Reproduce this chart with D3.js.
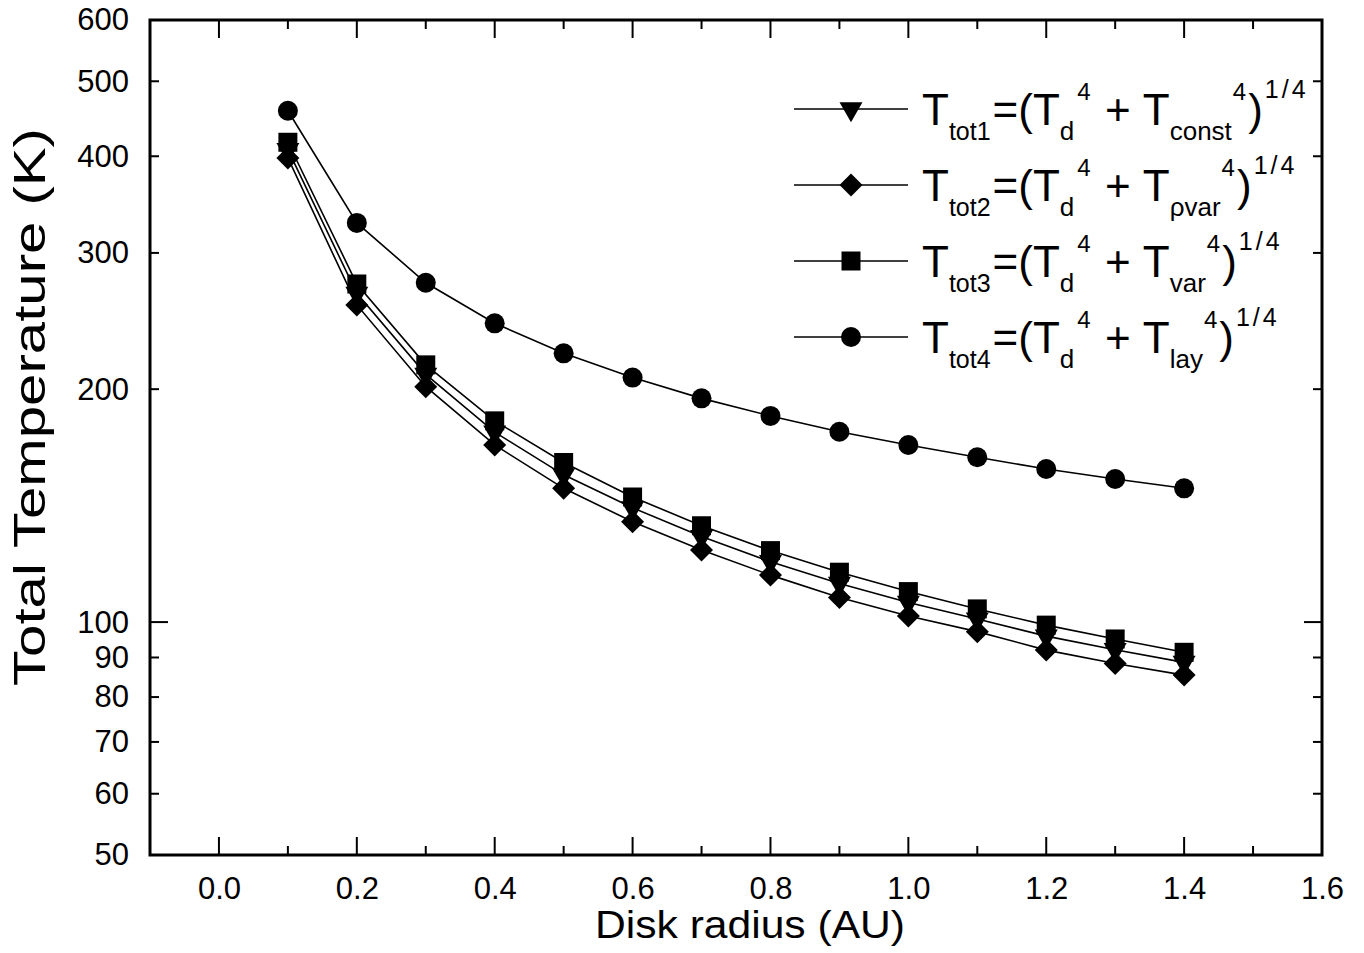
<!DOCTYPE html>
<html>
<head>
<meta charset="utf-8">
<script src="https://cdn.jsdelivr.net/npm/d3@7"></script>
<style>
  body { margin: 0; background: #fff; }
  svg text { font-family: "Liberation Sans", Arial, sans-serif; fill: #000; }
</style>
</head>
<body>
<svg id="svg"></svg>
<script>
// values
const radius = [0.1, 0.2, 0.3, 0.4, 0.5, 0.6, 0.7, 0.8, 0.9, 1.0, 1.1, 1.2, 1.3, 1.4];
const tTot1 = [408, 266, 209, 176, 155, 140.5, 129, 119.7, 112.2, 106, 100.9, 95.9, 92.1, 88.7];
const tTot2 = [398, 257, 201.5, 169.4, 148.9, 134.8, 123.9, 115, 107.6, 101.8, 97.2, 92, 88.4, 85.4];
const tTot3 = [417, 273.5, 215, 182, 160.8, 145.1, 133.2, 123.7, 116, 109.5, 104, 99.1, 95.1, 91.4];
const tTot4 = [458, 328, 274.5, 243.3, 222.5, 207, 194.6, 184.7, 176.2, 169.4, 163.3, 157.7, 153.1, 148.9];

const xTicks = [0.0, 0.2, 0.4, 0.6, 0.8, 1.0, 1.2, 1.4, 1.6];
const xMinorTicks = [0.1, 0.3, 0.5, 0.7, 0.9, 1.1, 1.3, 1.5];
const yTicks = [50, 60, 70, 80, 90, 100, 200, 300, 400, 500, 600];

const seriesSubs = ['tot1', 'tot2', 'tot3', 'tot4'];
const termSubs = ['const', 'ρvar', 'var', 'lay'];
const seriesSymbols = ['triangle', 'diamond', 'square', 'circle'];

const width = 1364, height = 953;
const margin = { top: 20, right: 42, bottom: 98, left: 150 };

const svg = d3.select('#svg')
  .attr('width', width)
  .attr('height', height);

svg.append('rect').attr('width', width).attr('height', height).attr('fill', '#fff');

// SCALES
const xScale = d3.scaleLinear()
  .domain([-0.1, 1.6])
  .range([margin.left, width - margin.right]);

const yScale = d3.scaleLog()
  .domain([50, 600])
  .range([height - margin.bottom, margin.top]);

// marker shapes
function symbolPath(kind) {
  if (kind === 'triangle') return d3.symbol(d3.symbolTriangle, 229)();
  if (kind === 'square') return d3.symbol(d3.symbolSquare, 361)();
  if (kind === 'circle') return d3.symbol(d3.symbolCircle, Math.PI * 100)();
  return 'M0,-11.5L11.5,0L0,11.5L-11.5,0Z';
}
function symbolTransform(kind, x, y) {
  return kind === 'triangle' ? `translate(${x},${y}) rotate(180)` : `translate(${x},${y})`;
}

// X AXIS
const xAxis = svg.append('g')
  .attr('transform', `translate(0, ${height - margin.bottom})`)
  .call(d3.axisBottom(xScale).tickValues(xTicks).tickSize(0).tickPadding(22)
    .tickFormat(d3.format('.1f')));
xAxis.select('.domain').remove();
xAxis.selectAll('text').attr('font-size', 31).attr('font-family', 'Liberation Sans, Arial');

// Y AXIS
const yAxis = svg.append('g')
  .attr('transform', `translate(${margin.left}, 0)`)
  .call(d3.axisLeft(yScale).tickValues(yTicks).tickSize(0).tickPadding(21)
    .tickFormat(d3.format('d')));
yAxis.select('.domain').remove();
yAxis.selectAll('text').attr('font-size', 31).attr('font-family', 'Liberation Sans, Arial');

// inward ticks on all four sides
const tickGroup = svg.append('g').attr('stroke', '#000').attr('stroke-width', 2);
const y0 = yScale.range()[0], y1 = yScale.range()[1];
const x0 = xScale.range()[0], x1 = xScale.range()[1];

xTicks.concat(xMinorTicks).forEach(v => {
  const len = xTicks.includes(v) ? 18 : 9;
  tickGroup.append('line').attr('x1', xScale(v)).attr('x2', xScale(v)).attr('y1', y0).attr('y2', y0 - len);
  tickGroup.append('line').attr('x1', xScale(v)).attr('x2', xScale(v)).attr('y1', y1).attr('y2', y1 + len);
});
yTicks.forEach(v => {
  const len = v === 100 ? 18 : 9;
  tickGroup.append('line').attr('x1', x0).attr('x2', x0 + len).attr('y1', yScale(v)).attr('y2', yScale(v));
  tickGroup.append('line').attr('x1', x1).attr('x2', x1 - len).attr('y1', yScale(v)).attr('y2', yScale(v));
});

// FRAME
svg.append('rect')
  .attr('x', x0).attr('y', y1)
  .attr('width', x1 - x0).attr('height', y0 - y1)
  .attr('fill', 'none').attr('stroke', '#000').attr('stroke-width', 3);

// AXIS LABELS
svg.append('text')
  .attr('text-anchor', 'middle')
  .attr('x', 750)
  .attr('y', 938)
  .attr('font-size', 38)
  .attr('textLength', 310)
  .attr('lengthAdjust', 'spacingAndGlyphs')
  .text('Disk radius (AU)');

svg.append('text')
  .attr('text-anchor', 'middle')
  .attr('transform', 'translate(45, 407) rotate(-90)')
  .attr('font-size', 44)
  .attr('textLength', 558)
  .attr('lengthAdjust', 'spacingAndGlyphs')
  .text('Total Temperature (K)');

// LINES AND MARKERS
const allSeries = [tTot1, tTot2, tTot3, tTot4];
const line = d3.line()
  .x((d, i) => xScale(radius[i]))
  .y(d => yScale(d));

const plot = svg.append('g');
allSeries.forEach((vals, s) => {
  plot.append('path')
    .datum(vals)
    .attr('d', line)
    .attr('fill', 'none')
    .attr('stroke', '#000')
    .attr('stroke-width', 1.6);
});
allSeries.forEach((vals, s) => {
  plot.selectAll(`.m${s}`)
    .data(vals)
    .enter()
    .append('path')
    .attr('class', `m${s}`)
    .attr('d', symbolPath(seriesSymbols[s]))
    .attr('transform', (d, i) => symbolTransform(seriesSymbols[s], xScale(radius[i]), yScale(d)))
    .attr('fill', '#000');
});

// LEGEND
const legend = svg.append('g');
seriesSubs.forEach((sub, i) => {
  const ly = 109 + i * 76;
  legend.append('line')
    .attr('x1', 794).attr('x2', 908).attr('y1', ly).attr('y2', ly)
    .attr('stroke', '#000').attr('stroke-width', 1.6);
  legend.append('path')
    .attr('d', symbolPath(seriesSymbols[i]))
    .attr('transform', symbolTransform(seriesSymbols[i], 851, ly))
    .attr('fill', '#000');

  const base = ly + 16, subY = ly + 31, supY = ly - 9;
  const t = legend.append('text').attr('x', 922).attr('y', base).attr('font-size', 44);
  // [text, y, size, dx, letter-spacing]
  const parts = [
    ['T', base, 44, 0, 0], [sub, subY, 25, 0, 0], ['=(T', base, 44, 2, 0], ['d', subY, 26, 0, 0],
    ['4', supY, 24, 3, 0], ['\u00a0+\u00a0T', base, 44, 2, 0], [termSubs[i], subY, 26, 0, 0],
    ['4', supY, 24, 1, 0], [')', base, 44, 2, 0], ['1/4', supY - 2, 25, 2, 3]
  ];
  parts.forEach(p => {
    t.append('tspan')
      .attr('y', p[1])
      .attr('dx', p[3])
      .attr('font-size', p[2])
      .attr('letter-spacing', p[4])
      .text(p[0]);
  });
});
</script>
</body>
</html>
